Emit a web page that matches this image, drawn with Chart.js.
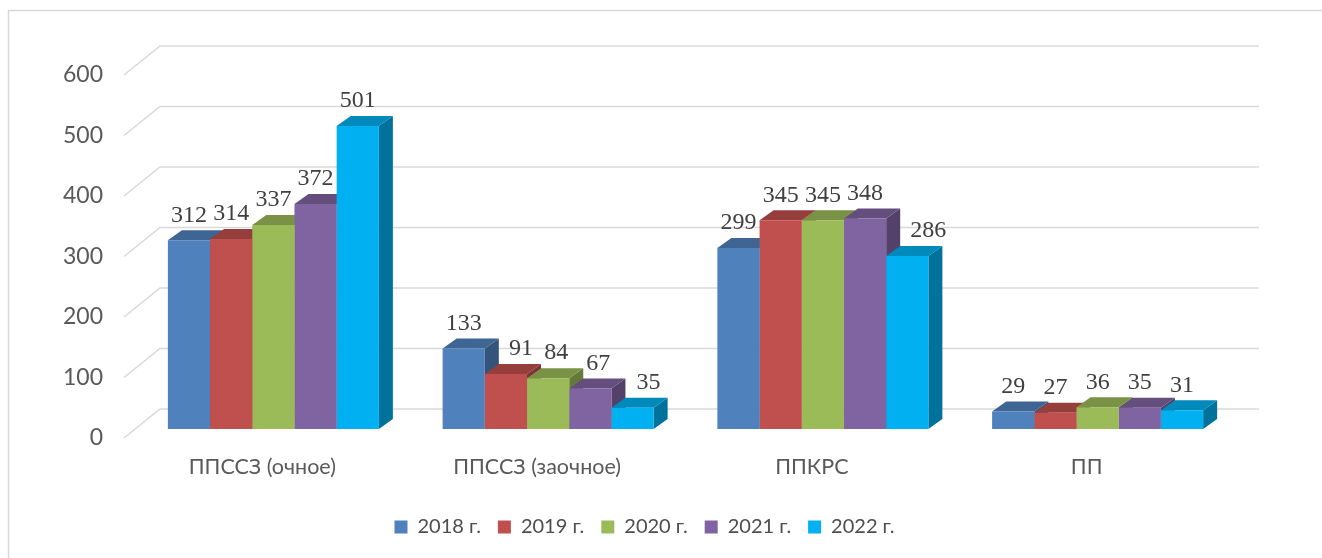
<!DOCTYPE html>
<html>
<head>
<meta charset="utf-8">
<script src="https://cdn.jsdelivr.net/npm/chart.js@4.4.1/dist/chart.umd.min.js"></script>
<style>
  html, body { margin: 0; padding: 0; background: #fff; }
  canvas { display: block; }
</style>
</head>
<body>
<canvas id="chart" width="1322" height="558"></canvas>
<script>
// --- Data ---
const categories = ['ППССЗ (очное)', 'ППССЗ (заочное)', 'ППКРС', 'ПП'];
const years = ['2018 г.', '2019 г.', '2020 г.', '2021 г.', '2022 г.'];
const values2018 = [312, 133, 299, 29];
const values2019 = [314, 91, 345, 27];
const values2020 = [337, 84, 345, 36];
const values2021 = [372, 67, 348, 35];
const values2022 = [501, 35, 286, 31];
const yTicks = [0, 100, 200, 300, 400, 500, 600];

const colors = ['#4f81bd', '#c0504d', '#9bbb59', '#8064a2', '#00b0f0'];

// 3D look
const DEPTH_X = 14, DEPTH_Y = 10;        // bar depth
const WALL_X = 24, WALL_Y = 20;          // bar plane -> back wall
const FRONT_X = 12, FRONT_Y = 9;         // bar plane -> front edge
const GRID = '#d9d9d9';
const FONT = 'Lato, "Open Sans", sans-serif';
// Excel moved a few labels sideways to avoid overlaps (dataset-category: px)
const labelNudge = { '1-1': 15, '2-1': 8, '3-1': 8, '4-1': 16, '4-2': 21 };

function shade(hex, f) {
  const n = parseInt(hex.slice(1), 16);
  const r = Math.round(((n >> 16) & 255) * f);
  const g = Math.round(((n >> 8) & 255) * f);
  const b = Math.round((n & 255) * f);
  return `rgb(${r},${g},${b})`;
}

// frame, walls and gridlines
const backdrop = {
  id: 'backdrop',
  beforeDraw(chart) {
    const { ctx } = chart;
    ctx.save();
    ctx.strokeStyle = GRID;
    ctx.lineWidth = 1.5;
    ctx.strokeRect(8.5, 10.5, 2000, 2000);
    ctx.restore();
  },
  beforeDatasetsDraw(chart) {
    const { ctx, chartArea, scales } = chart;
    const y = scales.y;
    ctx.save();
    ctx.strokeStyle = GRID;
    ctx.lineWidth = 1.6;
    yTicks.forEach(v => {
      const py = y.getPixelForValue(v);
      ctx.beginPath();
      ctx.moveTo(chartArea.left - FRONT_X, py + FRONT_Y);
      ctx.lineTo(chartArea.left + WALL_X, py - WALL_Y);
      ctx.lineTo(chartArea.right + WALL_X, py - WALL_Y);
      ctx.stroke();
    });

    // side and top faces, left to right so neighbours overlap correctly
    const metas = chart.data.datasets.map((_, i) => chart.getDatasetMeta(i));
    categories.forEach((_, ci) => {
      metas.forEach((meta, di) => {
        const bar = meta.data[ci];
        if (!bar) return;
        const { x, y: top, base, width } = bar.getProps(['x', 'y', 'base', 'width'], true);
        const l = x - width / 2, r = x + width / 2;
        const c = colors[di];
        // side
        ctx.fillStyle = shade(c, 0.65);
        ctx.beginPath();
        ctx.moveTo(r, top);
        ctx.lineTo(r + DEPTH_X, top - DEPTH_Y);
        ctx.lineTo(r + DEPTH_X, base - DEPTH_Y);
        ctx.lineTo(r, base);
        ctx.closePath();
        ctx.fill();
        // top
        ctx.fillStyle = shade(c, 0.78);
        ctx.beginPath();
        ctx.moveTo(l, top);
        ctx.lineTo(l + DEPTH_X, top - DEPTH_Y);
        ctx.lineTo(r + DEPTH_X, top - DEPTH_Y);
        ctx.lineTo(r, top);
        ctx.closePath();
        ctx.fill();
      });
    });
    ctx.restore();
  },
  afterDatasetsDraw(chart) {
    const { ctx } = chart;
    ctx.save();
    ctx.font = '24px "Liberation Serif", "Times New Roman", serif';
    ctx.fillStyle = '#404040';
    ctx.textAlign = 'center';
    ctx.textBaseline = 'middle';
    chart.data.datasets.forEach((ds, di) => {
      chart.getDatasetMeta(di).data.forEach((bar, ci) => {
        const nudge = labelNudge[di + '-' + ci] || 0;
        ctx.fillText(String(ds.data[ci]), bar.x + nudge, bar.y - 25);
      });
    });
    ctx.restore();
  }
};

const seriesValues = [values2018, values2019, values2020, values2021, values2022];

new Chart(document.getElementById('chart').getContext('2d'), {
  type: 'bar',
  data: {
    labels: categories,
    datasets: years.map((label, i) => ({
      label,
      data: seriesValues[i],
      backgroundColor: colors[i],
      borderWidth: 0,
      categoryPercentage: 0.768,
      barPercentage: 1.0
    }))
  },
  options: {
    responsive: false,
    animation: false,
    devicePixelRatio: 1,
    layout: { padding: { left: 0, right: 33, top: 66, bottom: 11 } },
    plugins: {
      legend: {
        position: 'bottom',
        labels: {
          boxWidth: 13,
          boxHeight: 13,
          padding: 17,
          color: '#4d4d4d',
          font: { family: FONT, size: 20 }
        }
      },
      tooltip: { enabled: false }
    },
    scales: {
      x: {
        grid: { display: false },
        border: { display: false },
        ticks: {
          color: '#595959',
          padding: 17,
          labelOffset: -11,
          font: { family: FONT, size: 21.5 }
        },
        afterFit(scale) { scale.height = 71; }
      },
      y: {
        min: 0,
        max: 600,
        grid: { display: false },
        border: { display: false },
        ticks: {
          stepSize: 100,
          color: '#595959',
          padding: 25,
          labelOffset: 9,
          font: { family: FONT, size: 23 }
        },
        afterFit(scale) { scale.width = 136; }
      },
      // empty right-hand strip, keeps the plot where the reference has it
      spacer: {
        type: 'linear',
        position: 'right',
        grid: { display: false },
        border: { display: false },
        ticks: { display: false },
        afterFit(scale) { scale.width = 54; }
      }
    }
  },
  plugins: [backdrop]
});
</script>
</body>
</html>
